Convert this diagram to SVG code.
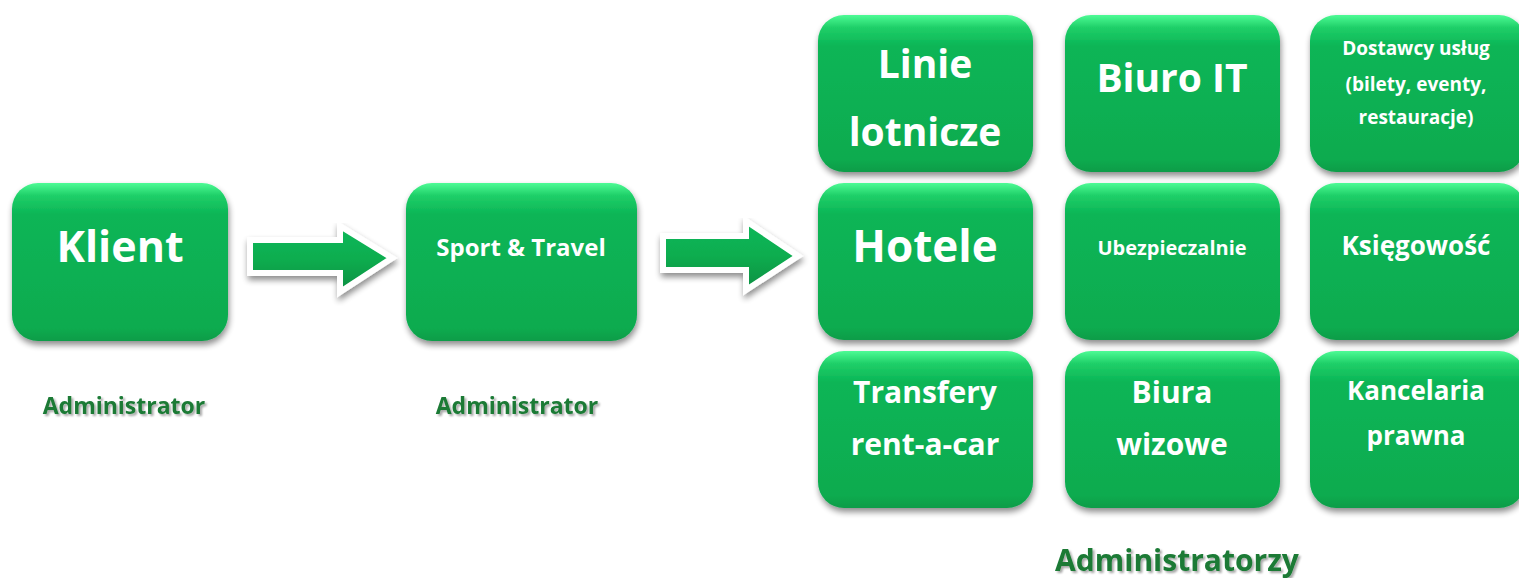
<svg xmlns="http://www.w3.org/2000/svg" width="1519" height="578" viewBox="0 0 1519 578">
<defs>
<linearGradient id="boxG" x1="0" y1="0" x2="0" y2="1">
<stop offset="0" stop-color="#4dfb95"/>
<stop offset="0.08" stop-color="#1fcf68"/>
<stop offset="0.2" stop-color="#0bb556"/>
<stop offset="0.92" stop-color="#07ab4f"/>
<stop offset="1" stop-color="#0c9c48"/>
</linearGradient>
<linearGradient id="arrG" x1="0" y1="0" x2="0" y2="1">
<stop offset="0" stop-color="#14b85a"/>
<stop offset="0.5" stop-color="#08ad4f"/>
<stop offset="1" stop-color="#0c8f42"/>
</linearGradient>
<filter id="sh" x="-10%" y="-10%" width="125%" height="130%">
<feGaussianBlur in="SourceAlpha" stdDeviation="3"/>
<feOffset dx="1" dy="4" result="b"/>
<feComponentTransfer><feFuncA type="linear" slope="0.45"/></feComponentTransfer>
<feMerge><feMergeNode/><feMergeNode in="SourceGraphic"/></feMerge>
</filter>
<filter id="tsh" x="-5%" y="-20%" width="115%" height="150%">
<feGaussianBlur in="SourceAlpha" stdDeviation="1.2"/>
<feOffset dx="2" dy="2"/>
<feComponentTransfer><feFuncA type="linear" slope="0.35"/></feComponentTransfer>
<feMerge><feMergeNode/><feMergeNode in="SourceGraphic"/></feMerge>
</filter>
</defs>
<style>
.box{fill:url(#boxG);filter:url(#sh)}
.t{font-family:"Open Sans","Noto Sans","Liberation Sans",sans-serif;font-weight:bold;fill:#fff;text-anchor:middle}
.adm{font-family:"Open Sans","Noto Sans","Liberation Sans",sans-serif;font-weight:bold;fill:#1a7a35;text-anchor:middle;filter:url(#tsh)}
.arr{fill:url(#arrG);stroke:#fff;stroke-width:6;stroke-linejoin:miter;filter:url(#sh)}
</style>

<g id="connectors">
<path class="arr" d="M250,240 L340,240 L340,226 L392,258 L340,292 L340,273 L250,273 Z"/>
<path class="arr" d="M663,236 L746,236 L746,221 L798,256 L746,290 L746,270 L663,270 Z"/>
</g>

<g id="klient">
<rect class="box" x="12" y="183" width="216" height="158" rx="26"/>
<text class="t" x="120" y="262" font-size="43">Klient</text>
</g>
<g id="sport-travel">
<rect class="box" x="406" y="183" width="231" height="158" rx="26"/>
<text class="t" x="521" y="256" font-size="24">Sport &amp; Travel</text>
</g>

<g id="linie-lotnicze">
<rect class="box" x="818" y="15" width="215" height="157" rx="26"/>
<text class="t" x="925" y="78" font-size="39">Linie</text>
<text class="t" x="925" y="146" font-size="39">lotnicze</text>
</g>
<g id="biuro-it">
<rect class="box" x="1065" y="15" width="215" height="157" rx="26"/>
<text class="t" x="1172" y="92" font-size="39">Biuro IT</text>
</g>
<g id="dostawcy">
<rect class="box" x="1310" y="15" width="215" height="157" rx="26"/>
<text class="t" x="1416" y="55" font-size="19">Dostawcy usług</text>
<text class="t" x="1416" y="91" font-size="19">(bilety, eventy,</text>
<text class="t" x="1416" y="124" font-size="19">restauracje)</text>
</g>

<g id="hotele">
<rect class="box" x="818" y="183" width="215" height="157" rx="26"/>
<text class="t" x="925" y="262" font-size="44">Hotele</text>
</g>
<g id="ubezpieczalnie">
<rect class="box" x="1065" y="183" width="215" height="157" rx="26"/>
<text class="t" x="1172" y="255" font-size="20">Ubezpieczalnie</text>
</g>
<g id="ksiegowosc">
<rect class="box" x="1310" y="183" width="215" height="157" rx="26"/>
<text class="t" x="1416" y="255" font-size="26">Księgowość</text>
</g>

<g id="transfery">
<rect class="box" x="818" y="351" width="215" height="157" rx="26"/>
<text class="t" x="925" y="403" font-size="30">Transfery</text>
<text class="t" x="925" y="455" font-size="30">rent-a-car</text>
</g>
<g id="biura-wizowe">
<rect class="box" x="1065" y="351" width="215" height="157" rx="26"/>
<text class="t" x="1172" y="403" font-size="30">Biura</text>
<text class="t" x="1172" y="455" font-size="30">wizowe</text>
</g>
<g id="kancelaria">
<rect class="box" x="1310" y="351" width="215" height="157" rx="26"/>
<text class="t" x="1416" y="400" font-size="26">Kancelaria</text>
<text class="t" x="1416" y="445" font-size="26">prawna</text>
</g>

<g id="labels">
<text class="adm" x="124" y="414" font-size="23">Administrator</text>
<text class="adm" x="517" y="414" font-size="23">Administrator</text>
<text class="adm" x="1177" y="571" font-size="30">Administratorzy</text>
</g>
</svg>
